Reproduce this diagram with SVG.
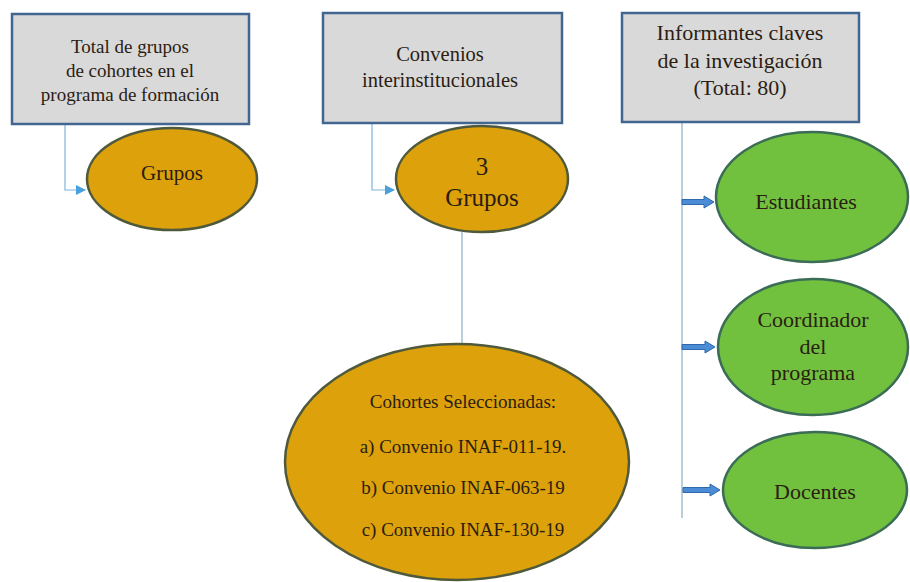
<svg xmlns="http://www.w3.org/2000/svg" width="910" height="582" viewBox="0 0 910 582">
<defs>
<style>
.box{fill:#d9d9d9;stroke:#41668f;stroke-width:2.5}
.ora{fill:#dca10b;stroke:#4f5a3c;stroke-width:2.5}
.grn{fill:#71c13f;stroke:#3b6c55;stroke-width:2.5}
.t{font-family:"Liberation Serif","Times New Roman",serif;fill:#2b1d12;text-anchor:middle}
.s19{font-size:19px}
.s20{font-size:20.5px}
.s21{font-size:21px}
.s22{font-size:22px}
.s25{font-size:25px}
.con{fill:none;stroke:#7db4dd;stroke-width:1.2}
.vline{fill:none;stroke:#a3bccf;stroke-width:1.5}
.barrow{fill:#4a8dd6;stroke:#2f69ad;stroke-width:1}
</style>
<marker id="tri" viewBox="0 0 10 10" refX="9" refY="5" markerWidth="10" markerHeight="10" markerUnits="userSpaceOnUse" orient="auto">
<path d="M0,0 L10,5 L0,10 Z" fill="#4aa0dc"/>
</marker>
</defs>
<rect width="910" height="582" fill="#ffffff"/>
<g id="connectors">
<path class="con" d="M43,108 H65 V190 H85" marker-end="url(#tri)"/>
<path class="con" d="M351,108 H372 V190 H394" marker-end="url(#tri)"/>
<path class="vline" d="M462,232 V345"/>
<path class="vline" d="M682,122 V518"/>
<path class="barrow" d="M682,199.5 H704 V196 L714,202 L704,208 V204.5 H682 Z"/>
<path class="barrow" d="M682,344.5 H705 V341 L715,347 L705,353 V349.5 H682 Z"/>
<path class="barrow" d="M683,487.5 H710 V484 L720,490 L710,496 V492.5 H683 Z"/>
</g>
<g id="box-total">
<rect class="box" x="12" y="14" width="237" height="110"/>
<text class="t s19" x="130" y="53">Total de grupos</text>
<text class="t s19" x="130" y="77">de cohortes en el</text>
<text class="t s19" x="130" y="101">programa de formación</text>
</g>
<g id="box-convenios">
<rect class="box" x="323" y="13" width="239" height="110"/>
<text class="t s20" x="440" y="61">Convenios</text>
<text class="t s20" x="440" y="87">interinstitucionales</text>
</g>
<g id="box-informantes">
<rect class="box" x="622" y="13" width="237" height="109"/>
<text class="t s22" x="740" y="40">Informantes claves</text>
<text class="t s22" x="740" y="68">de la investigación</text>
<text class="t s22" x="740" y="95">(Total: 80)</text>
</g>
<g id="ell-grupos">
<ellipse class="ora" cx="172" cy="179" rx="85" ry="51"/>
<text class="t s21" x="172" y="180">Grupos</text>
</g>
<g id="ell-3grupos">
<ellipse class="ora" cx="482" cy="179" rx="86" ry="53"/>
<text class="t s25" x="482" y="175">3</text>
<text class="t s25" x="482" y="206">Grupos</text>
</g>
<g id="ell-cohortes">
<ellipse class="ora" cx="457" cy="462" rx="172" ry="118"/>
<text class="t s19" x="463" y="408">Cohortes Seleccionadas:</text>
<text class="t s19" x="463" y="453">a) Convenio INAF-011-19.</text>
<text class="t s19" x="463" y="494">b) Convenio INAF-063-19</text>
<text class="t s19" x="463" y="536">c) Convenio INAF-130-19</text>
</g>
<g id="ell-estudiantes">
<ellipse class="grn" cx="812" cy="197" rx="96" ry="65"/>
<text class="t s22" x="806" y="209">Estudiantes</text>
</g>
<g id="ell-coordinador">
<ellipse class="grn" cx="813" cy="347" rx="95" ry="68"/>
<text class="t s22" x="813" y="327">Coordinador</text>
<text class="t s22" x="813" y="354">del</text>
<text class="t s22" x="813" y="380">programa</text>
</g>
<g id="ell-docentes">
<ellipse class="grn" cx="815" cy="490" rx="92" ry="58"/>
<text class="t s22" x="815" y="499">Docentes</text>
</g>
</svg>
